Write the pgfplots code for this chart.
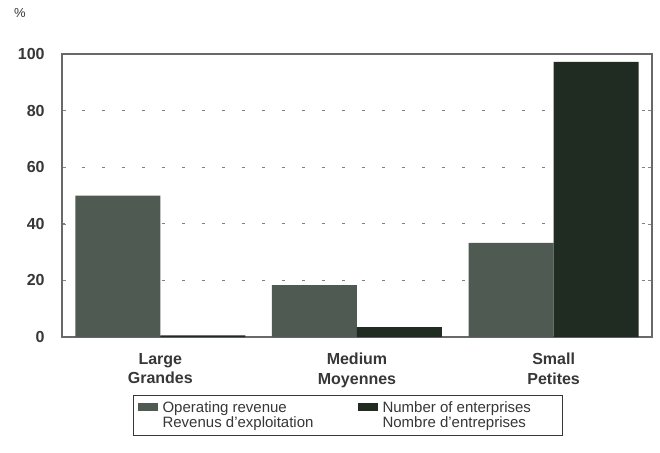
\documentclass[border=0pt]{standalone}
\usepackage{pgfplots}
\pgfplotsset{compat=1.18}
\usepackage{fontspec}
\setmainfont{Liberation Sans}

\definecolor{revenue}{RGB}{78,90,82}
\definecolor{firms}{RGB}{32,44,34}
\definecolor{ink}{RGB}{55,55,55}

% small filled boxes in the legend, and an empty one of the same size
\pgfplotsset{
  /pgfplots/ybar legend/.style={
    /pgfplots/legend image code/.code={\fill[##1] (0pt,-1.6pt) rectangle (10pt,2.4pt);}},
  blank legend/.style={
    /pgfplots/legend image code/.code={\path[draw=none, fill=none] (0pt,-1.6pt) rectangle (10pt,2.4pt);}},
}

\begin{document}
\begin{tikzpicture}
\useasboundingbox (-31pt,-57.5pt) rectangle (299pt,168.5pt);
\begin{axis}[
    at={(0,0)}, anchor=south west,
    scale only axis, width=295pt, height=141.5pt,
    xmin=-0.5, xmax=2.5,
    ymin=0, ymax=100,
    ybar=0pt, bar width=42.5pt,
    xtick={0,1,2},
    xticklabels={{Large\\Grandes},{Medium\\Moyennes},{Small\\Petites}},
    xtick style={draw=none},
    ytick={0,20,40,60,80,100},
    tick align=inside,
    major tick length=2pt,
    ytick style={draw=ink!60},
    ymajorgrids=true,
    grid style={draw=gray, dash pattern=on 1.5pt off 8.5pt},
    axis line style={draw=ink!75, line width=0.9pt},
    /pgf/number format/assume math mode=true,
    yticklabel style={font=\fontsize{8}{9}\selectfont\bfseries, text=ink, inner sep=0pt, xshift=-8.5pt},
    xticklabel style={font=\fontsize{8}{9.8}\selectfont\bfseries, text=ink, align=center, inner sep=0pt, yshift=-7.8pt},
    legend columns=2,
    legend cell align=left,
    legend style={at={(0.1203,-0.205)}, anchor=north west,
        draw=ink, line width=0.6pt, inner xsep=2pt, inner ysep=2.5pt,
        column sep=0.5pt, row sep=0pt,
        font=\fontsize{7.5}{8}\selectfont, text=ink,
        nodes={inner xsep=2pt, inner ysep=0pt, text height=6pt, text depth=1.5pt}},
]

% Operating revenue / Revenus d'exploitation
\addplot[fill=revenue, draw=none] coordinates {(0,50.0) (1,18.3) (2,33.3)};
\addlegendentry{\makebox[95pt][l]{Operating revenue}}

% Number of enterprises / Nombre d'entreprises
\addplot[fill=firms, draw=none] coordinates {(0,0.6) (1,3.5) (2,97.2)};
\addlegendentry{\makebox[86pt][l]{Number of enterprises}}

% second (French) line of each legend entry
\addlegendimage{blank legend, draw=none, fill=none}
\addlegendentry{\makebox[95pt][l]{Revenus d'exploitation}}
\addlegendimage{blank legend, draw=none, fill=none}
\addlegendentry{\makebox[86pt][l]{Nombre d'entreprises}}

\end{axis}
\node[font=\fontsize{6.5}{7}\selectfont, text=ink] at (-21pt,162pt) {\%};
\end{tikzpicture}
\end{document}
